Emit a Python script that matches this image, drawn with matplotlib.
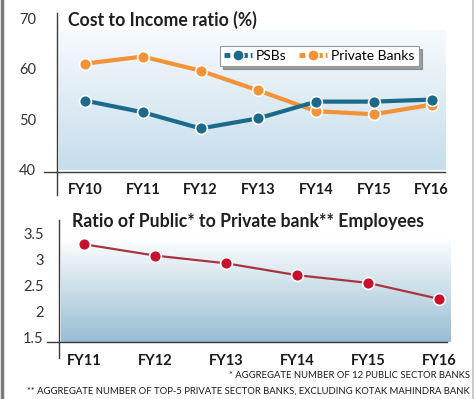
import numpy as np
import matplotlib
matplotlib.use("Agg")
import matplotlib.pyplot as plt
from matplotlib.lines import Line2D
from matplotlib.colors import LinearSegmentedColormap

# ---- data ----
years_top = ["FY10", "FY11", "FY12", "FY13", "FY14", "FY15", "FY16"]
psbs = [53.7, 51.4, 48.2, 50.2, 53.5, 53.5, 53.9]
private_banks = [61.0, 62.4, 59.6, 55.7, 51.6, 51.0, 52.9]
top_yticks = [40, 50, 60, 70]

years_bot = ["FY11", "FY12", "FY13", "FY14", "FY15", "FY16"]
emp_ratio = [3.30, 3.08, 2.93, 2.70, 2.55, 2.24]
bot_yticks = [1.5, 2, 2.5, 3, 3.5]
bot_yticklabels = ["1.5", "2", "2.5", "3", "3.5"]

title_top = "Cost to Income ratio (%)"
title_bot = "Ratio of Public* to Private bank** Employees"
note1 = "* AGGREGATE NUMBER OF 12 PUBLIC SECTOR BANKS"
note2 = "** AGGREGATE NUMBER OF TOP-5 PRIVATE SECTOR BANKS, EXCLUDING KOTAK MAHINDRA BANK"

W, H = 474, 399
fig = plt.figure(figsize=(W / 100, H / 100), dpi=100)
fig.patch.set_facecolor("white")

TITLE_FONT = ["Lato", "DejaVu Sans"]
NARROW = ["Lato", "DejaVu Sans"]

def fx(px):
    return px / W

def fy(py):
    return 1 - py / H

AX_COL = "#3a3a3a"

def grad_panel(ax, x0, x1, y0, y1, c_top, c_bot):
    cmap = LinearSegmentedColormap.from_list("g", [c_bot, c_top])
    g = np.linspace(0, 1, 256).reshape(-1, 1)
    ax.imshow(g, cmap=cmap, origin="lower", aspect="auto",
              extent=(x0, x1, y0, y1), transform=ax.transAxes,
              zorder=0, clip_on=False, interpolation="bilinear")

def axes_lines(ax, xl, yb):
    ax.add_line(Line2D([0, 0], [yb, 1], transform=ax.transAxes,
                       color=AX_COL, lw=1.0, clip_on=False, zorder=3))
    ax.add_line(Line2D([xl, 1], [0, 0], transform=ax.transAxes,
                       color=AX_COL, lw=1.0, clip_on=False, zorder=3))
    for s in ax.spines.values():
        s.set_visible(False)

# ---------------- top chart ----------------
l, r, t, b = 57, 445, 12.5, 172
ax1 = fig.add_axes([fx(l), fy(b), fx(r - l), (b - t) / H])
ax1.set_facecolor("none")
xt = np.arange(len(years_top))
ax1.set_xlim(-0.485, 6.23)
ax1.set_ylim(39.6, 71.1)
grad_panel(ax1, 0.005, 1.0, 0.0125, 0.89, "#f7fafd", "#c6ddec")
axes_lines(ax1, -0.0335, -0.144)

c_psb = "#1b6a8c"
c_pvt = "#f39237"
ax1.plot(xt, private_banks, color=c_pvt, lw=3.0, marker="o", ms=8.5,
         mfc=c_pvt, mec="white", mew=1.2, zorder=4, label="Private Banks")
ax1.plot(xt, psbs, color=c_psb, lw=3.0, marker="o", ms=8.5,
         mfc=c_psb, mec="white", mew=1.2, zorder=5, label="PSBs")

ax1.set_xticks(xt)
ax1.set_xticklabels(years_top, fontsize=10.5, fontweight="bold",
                    family=NARROW, color="#1a1a1a")
ax1.set_yticks(top_yticks)
ax1.set_yticklabels([str(v) for v in top_yticks], fontsize=10.5,
                    family=NARROW, color="#333333")
ax1.tick_params(axis="both", length=0)
ax1.tick_params(axis="x", pad=8)
ax1.tick_params(axis="y", pad=15)

ax1.text(fx(68), fy(20), title_top, transform=fig.transFigure,
         fontsize=12.7, fontweight="bold", family=TITLE_FONT, color="#1f1f1f",
         ha="left", va="center")

h_psb = Line2D([], [], color=c_psb, lw=3.5, ls=(0, (1.2, 0.6)), marker="o",
               ms=8, mfc=c_psb, mec="white", mew=1.0)
h_pvt = Line2D([], [], color=c_pvt, lw=3.5, ls=(0, (1.2, 0.6)), marker="o",
               ms=8, mfc=c_pvt, mec="white", mew=1.0)
leg = ax1.legend([h_psb, h_pvt], ["PSBs", "Private Banks"], ncol=2,
                 loc="upper left", bbox_to_anchor=((213 - l) / (r - l), (b - 39) / (b - t)),
                 frameon=True, fancybox=False, shadow=True, handlelength=2.0,
                 handletextpad=0.3, columnspacing=0.9, borderpad=0.3,
                 prop={"family": NARROW, "size": 10})
leg.get_frame().set_edgecolor("#9a9a9a")
leg.get_frame().set_linewidth(0.8)
leg.set_zorder(6)

# ---------------- bottom chart ----------------
l2, r2, t2, b2 = 59, 447, 220, 341.7
ax2 = fig.add_axes([fx(l2), fy(b2), fx(r2 - l2), (b2 - t2) / H])
ax2.set_facecolor("none")
xb = np.arange(len(years_bot))
ax2.set_xlim(-0.352, 5.11)
ax2.set_ylim(1.41, 3.77)
grad_panel(ax2, 0.005, 1.01, 0.0, 0.86, "#ffffff", "#97bdd3")
axes_lines(ax2, -0.031, -0.134)

ax2.plot(xb, emp_ratio, color="#a8343f", lw=1.6, marker="o", ms=8.5,
         mfc="#c8102e", mec="white", mew=1.2, zorder=4)
ax2.set_xticks(xb)
ax2.set_xticklabels(years_bot, fontsize=10.5, fontweight="bold",
                    family=NARROW, color="#1a1a1a")
ax2.set_yticks(bot_yticks)
ax2.set_yticklabels(bot_yticklabels, fontsize=10.5, family=NARROW,
                    color="#333333")
ax2.tick_params(axis="both", length=0)
ax2.tick_params(axis="x", pad=9)
ax2.tick_params(axis="y", pad=11)

ax2.text(fx(72), fy(222), title_bot, transform=fig.transFigure,
         fontsize=12.7, fontweight="bold", family=TITLE_FONT, color="#1f1f1f",
         ha="left", va="center")

fig.text(fx(470), fy(376), note1, fontsize=6.85, family=NARROW,
         color="#1a1a1a", ha="right", va="center")
fig.text(fx(470), fy(391), note2, fontsize=6.85, family=NARROW,
         color="#1a1a1a", ha="right", va="center")

# frame edges
fig.add_artist(Line2D([fx(1.5), fx(1.5)], [0, 1], transform=fig.transFigure,
                      color="#7a7a7a", lw=2.5))
fig.add_artist(Line2D([fx(473), fx(473)], [0, 1], transform=fig.transFigure,
                      color="#c8c8c8", lw=2.0))

fig.savefig("out.png", dpi=100)
